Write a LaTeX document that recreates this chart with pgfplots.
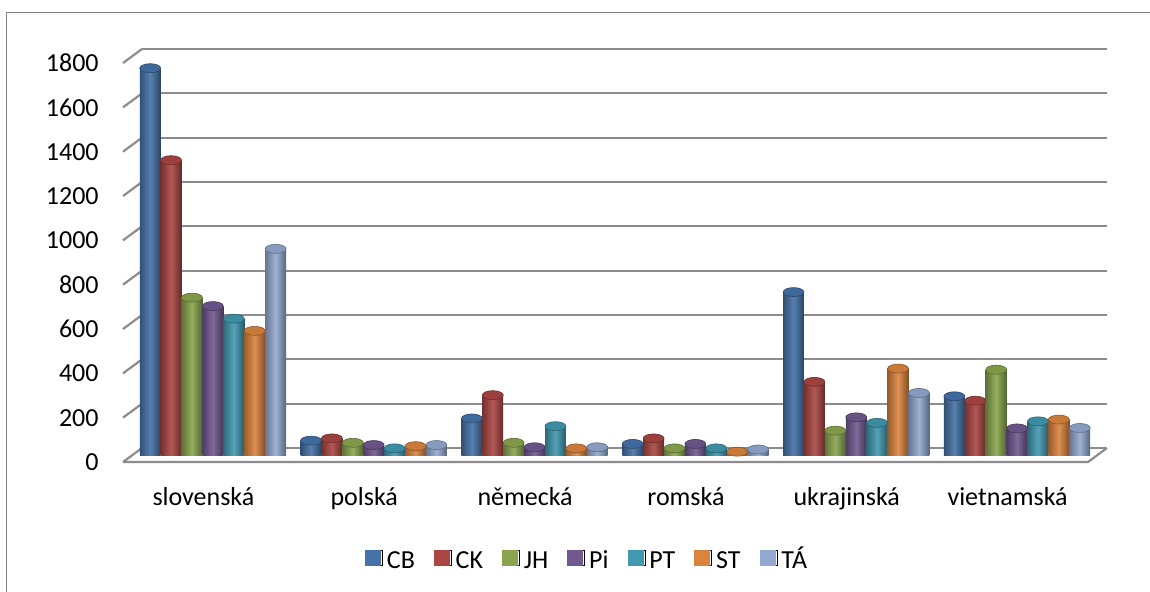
\documentclass[border=0pt]{standalone}
\usepackage{fontspec}
\setmainfont{Carlito}
\usepackage{pgfplots}
\usepackage{pgfplotstable}
\pgfplotsset{compat=1.18}
\usetikzlibrary{shapes.geometric}
\definecolor{cCB}{HTML}{4572A7}
\definecolor{cCK}{HTML}{AA4643}
\definecolor{cJH}{HTML}{89A54E}
\definecolor{cPi}{HTML}{71588F}
\definecolor{cPT}{HTML}{4198AF}
\definecolor{cST}{HTML}{DB843D}
\definecolor{cTA}{HTML}{93A9CF}
\pgfplotstableread{
x CB CK JH Pi PT ST TA
0 1745 1330 710 672 615 560 930
1 65 75 55 45 30 40 45
2 165 270 55 35 130 30 35
3 50 75 30 50 30 15 25
4 735 330 110 170 145 390 280
5 265 245 385 120 152 160 122
}\datatable
\pgfplotsset{cyl/.style 2 args={ybar, bar width=10.45pt, bar shift=#2, draw=none,
  left color=#1!70!black, right color=#1!60!black, middle color=#1!90!white,
  xshift=4.75pt, yshift=3.5pt, forget plot,
  nodes near coords={},
  every node near coord/.append style={ellipse, fill=#1!92!black, draw=#1!65!black, line width=0.3pt,
     minimum width=10.45pt, minimum height=4.5pt, inner sep=0pt, anchor=center, xshift=#2}},
  legsq/.style={legend image code/.code={\path (0pt,-2pt) rectangle (8.5pt,5.5pt);\fill[#1] (0pt,-1.8pt) rectangle (7.5pt,5.7pt);}}}
\begin{document}
\begin{tikzpicture}
\useasboundingbox (-61.5pt,-64.5pt) rectangle (513.5pt,231pt);
\draw[black!50, line width=0.5pt] (-58pt,-70pt) -- (-58pt,225pt) -- (520pt,225pt);
\begin{axis}[
  scale only axis, width=482.5pt, height=199.5pt,
  at={(0,0)}, anchor=south west,
  xmin=-0.5, xmax=5.5, ymin=0, ymax=1800, clip=false,
  ytick={0,200,...,1800}, xtick={0,...,5},
  xticklabels={slovenská,polská,německá,romská,ukrajinská,vietnamská},
  axis line style={draw=none}, major tick length=0pt,
  ymajorgrids, major grid style={black!45, line width=1.1pt, xshift=9.5pt, yshift=7pt},
  /pgf/number format/assume math mode=true,
  /pgf/number format/1000 sep={},
  tick label style={font=\fontsize{13}{15.6}\selectfont},
  yticklabel style={anchor=east, inner sep=0pt, xshift=-12pt},
  xticklabel style={anchor=base, inner sep=0pt, yshift=-21.5pt},
  legend columns=7,
  legend style={at={(0.482,-0.25)}, anchor=center, draw=none, fill=none,
    font=\fontsize{13}{15.6}\selectfont,
    nodes={text height=9pt, text depth=2.5pt},
    /tikz/every even column/.append style={column sep=7.5pt}},
]
\pgfplotsinvokeforeach{0,200,400,600,800,1000,1200,1400,1600,1800}{
  \draw[black!45, line width=1.1pt] (axis cs:-0.5,#1) -- ++(9.5pt,7pt);
}
\draw[black!45, line width=1.1pt] (axis cs:-0.5,0) -- (axis cs:5.5,0) -- ++(9.5pt,7pt);
\pgfplotsinvokeforeach{0,1,2,3,4,5}{
\addplot[cyl={cCB}{-31.35pt}, restrict x to domain=#1:#1] table[x=x,y=CB]{\datatable};
\addplot[cyl={cCK}{-20.9pt}, restrict x to domain=#1:#1] table[x=x,y=CK]{\datatable};
\addplot[cyl={cJH}{-10.45pt}, restrict x to domain=#1:#1] table[x=x,y=JH]{\datatable};
\addplot[cyl={cPi}{0pt}, restrict x to domain=#1:#1] table[x=x,y=Pi]{\datatable};
\addplot[cyl={cPT}{10.45pt}, restrict x to domain=#1:#1] table[x=x,y=PT]{\datatable};
\addplot[cyl={cST}{20.9pt}, restrict x to domain=#1:#1] table[x=x,y=ST]{\datatable};
\addplot[cyl={cTA}{31.35pt}, restrict x to domain=#1:#1] table[x=x,y=TA]{\datatable};
}
\addlegendimage{legsq=cCB}\addlegendentry{CB}
\addlegendimage{legsq=cCK}\addlegendentry{CK}
\addlegendimage{legsq=cJH}\addlegendentry{JH}
\addlegendimage{legsq=cPi}\addlegendentry{Pi}
\addlegendimage{legsq=cPT}\addlegendentry{PT}
\addlegendimage{legsq=cST}\addlegendentry{ST}
\addlegendimage{legsq=cTA}\addlegendentry{TÁ}
\end{axis}
\end{tikzpicture}
\end{document}
